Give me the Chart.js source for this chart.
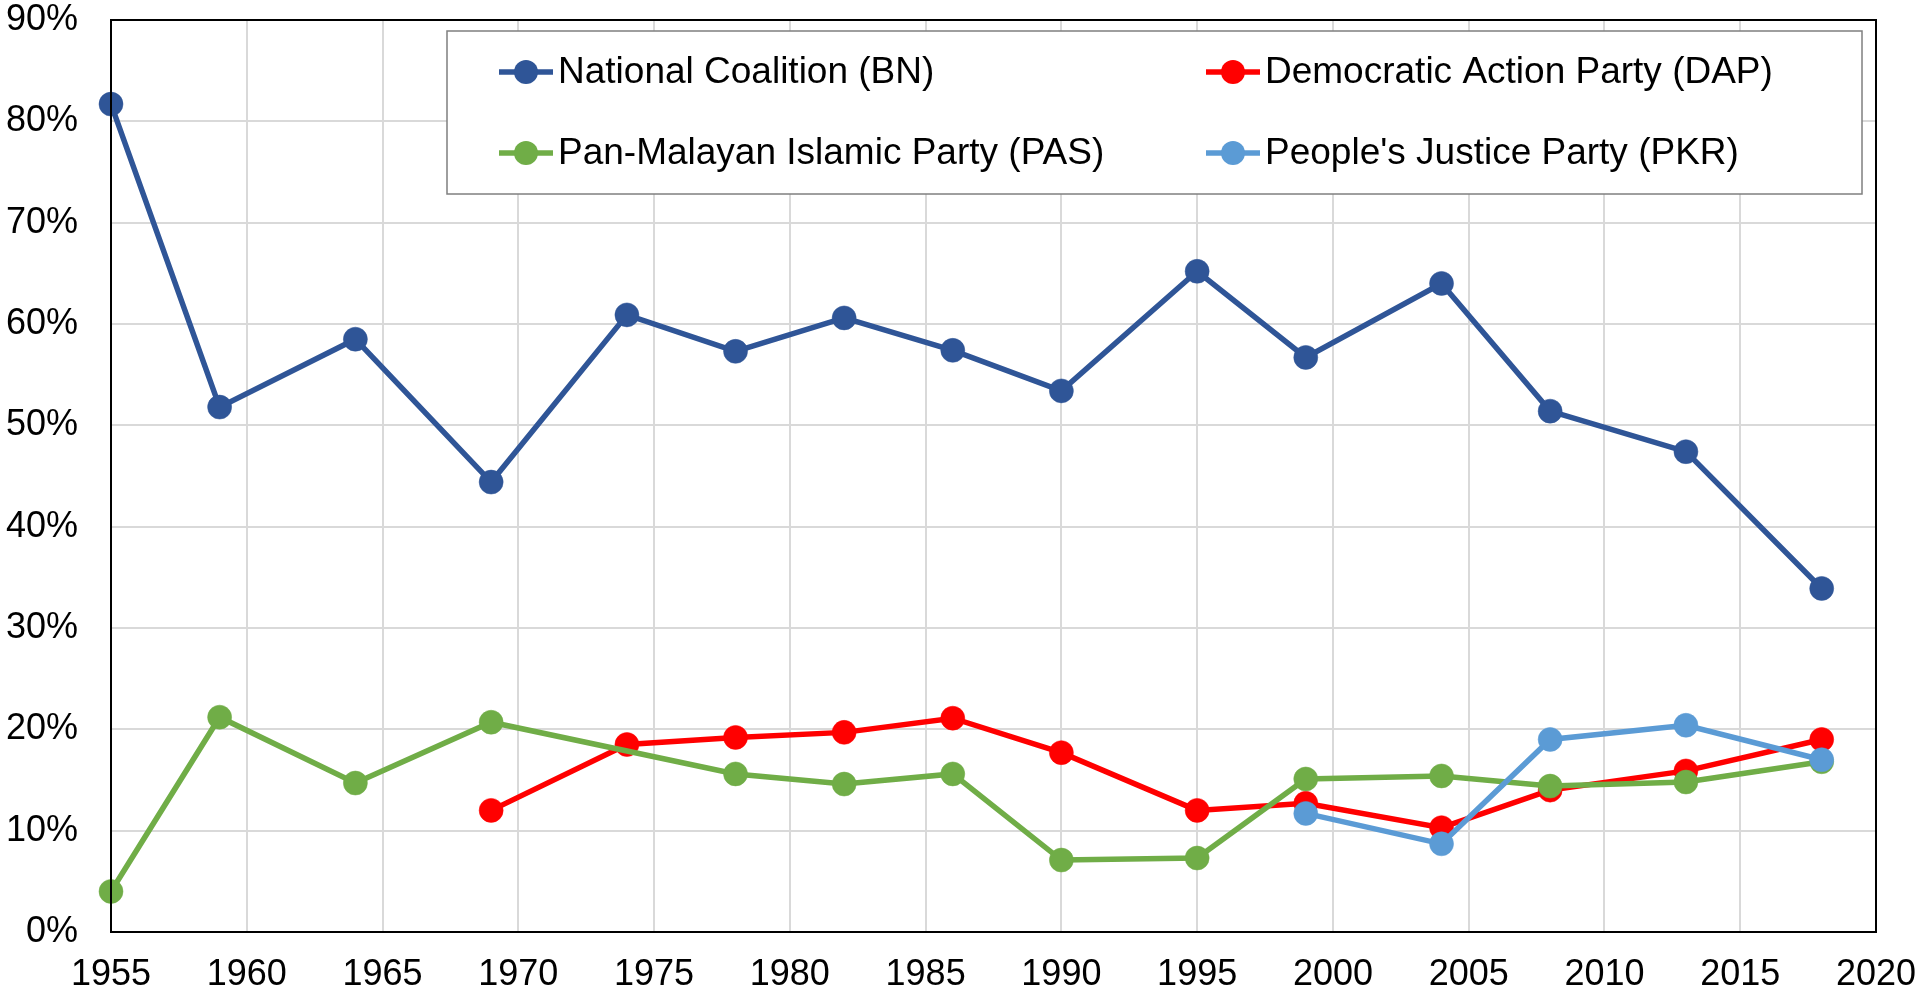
<!DOCTYPE html>
<html>
<head>
<meta charset="utf-8">
<script src="https://cdn.jsdelivr.net/npm/chart.js@4"></script>
<style>
  body { margin: 0; background: #fff; }
</style>
</head>
<body>
<canvas id="voteChart" width="1919" height="992"></canvas>
<script>
// election years and vote share (%) per party
const years = [1955, 1959, 1964, 1969, 1974, 1978, 1982, 1986, 1990, 1995, 1999, 2004, 2008, 2013, 2018];
const bn  = [81.7, 51.8, 58.5, 44.4, 60.9, 57.3, 60.6, 57.4, 53.4, 65.2, 56.7, 64.0, 51.4, 47.4, 33.9];
const dap = [null, null, null, 12.0, 18.5, 19.2, 19.7, 21.1, 17.7, 12.0, 12.7, 10.3, 14.0, 15.9, 19.0];
const pas = [4.0, 21.2, 14.7, 20.7, null, 15.6, 14.6, 15.6, 7.1, 7.3, 15.1, 15.4, 14.4, 14.8, 16.8];
const pkr = [null, null, null, null, null, null, null, null, null, null, 11.7, 8.7, 19.0, 20.4, 17.0];

const partyNames = [
  'National Coalition (BN)',
  'Democratic Action Party (DAP)',
  'Pan-Malayan Islamic Party (PAS)',
  "People's Justice Party (PKR)"
];
const partyColors = ['#2F5597', '#FF0000', '#70AD47', '#5B9BD5'];

const FAMILY = '"Liberation Sans", Arial, sans-serif';

function toPoints(vals) {
  return years.map((y, i) => ({ x: y, y: vals[i] }));
}

// border round the plot area
const frame = {
  id: 'frame',
  afterDatasetsDraw(chart) {
    const a = chart.chartArea, ctx = chart.ctx;
    ctx.save();
    ctx.strokeStyle = '#000';
    ctx.lineWidth = 2;
    ctx.strokeRect(a.left, a.top, a.right - a.left, a.bottom - a.top);
    ctx.restore();
  }
};

// boxed two column legend like the excel one
const boxLegend = {
  id: 'boxLegend',
  afterDraw(chart) {
    const a = chart.chartArea, ctx = chart.ctx;
    const bx = a.left + 336, by = a.top + 11, bw = 1415, bh = 163;
    ctx.save();
    ctx.fillStyle = '#fff';
    ctx.fillRect(bx, by, bw, bh);
    ctx.strokeStyle = '#7F7F7F';
    ctx.lineWidth = 1.5;
    ctx.strokeRect(bx, by, bw, bh);
    const cols = [bx + 52, bx + 759];
    const rows = [by + 41, by + 122];
    ctx.font = '37px ' + FAMILY;
    ctx.textBaseline = 'middle';
    partyNames.forEach((name, i) => {
      const x = cols[i % 2], y = rows[Math.floor(i / 2)];
      ctx.strokeStyle = partyColors[i];
      ctx.fillStyle = partyColors[i];
      ctx.lineWidth = 5.5;
      ctx.beginPath();
      ctx.moveTo(x, y);
      ctx.lineTo(x + 54, y);
      ctx.stroke();
      ctx.beginPath();
      ctx.arc(x + 27, y, 12, 0, Math.PI * 2);
      ctx.fill();
      ctx.fillStyle = '#000';
      ctx.fillText(name, x + 59, y + 1);
    });
    ctx.restore();
  }
};

function makeSet(i, vals, order) {
  return {
    label: partyNames[i],
    data: toPoints(vals),
    borderColor: partyColors[i],
    backgroundColor: partyColors[i],
    pointBackgroundColor: partyColors[i],
    pointBorderColor: partyColors[i],
    borderWidth: 5.5,
    pointRadius: 12,
    pointBorderWidth: 0.5,
    spanGaps: true,
    clip: false,
    order: order
  };
}

const ctx = document.getElementById('voteChart').getContext('2d');
const chart = new Chart(ctx, {
  type: 'line',
  data: {
    datasets: [
      makeSet(0, bn, 3),
      makeSet(1, dap, 2),
      makeSet(2, pas, 1),
      makeSet(3, pkr, 0)
    ]
  },
  options: {
    responsive: false,
    animation: false,
    layout: { padding: { top: 20, right: 43, left: 0, bottom: 0 } },
    plugins: {
      legend: { display: false },
      tooltip: { enabled: false }
    },
    scales: {
      x: {
        type: 'linear',
        min: 1955,
        max: 2020,
        grid: { color: '#D9D9D9', lineWidth: 2, drawTicks: false },
        border: { color: '#000', width: 2 },
        ticks: {
          stepSize: 5,
          padding: 21,
          color: '#000',
          font: { family: FAMILY, size: 36 },
          callback: v => String(v)
        },
        afterFit: s => { s.height = 60; s.paddingLeft = 0; s.paddingRight = 0; }
      },
      y: {
        min: 0,
        max: 90,
        grid: { color: '#D9D9D9', lineWidth: 2, drawTicks: false },
        border: { color: '#000', width: 2 },
        ticks: {
          stepSize: 10,
          padding: 33,
          color: '#000',
          font: { family: FAMILY, size: 36 },
          callback: v => v + '%'
        },
        afterFit: s => { s.width = 111; s.paddingTop = 0; s.paddingBottom = 0; }
      }
    }
  },
  plugins: [frame, boxLegend]
});
</script>
</body>
</html>
